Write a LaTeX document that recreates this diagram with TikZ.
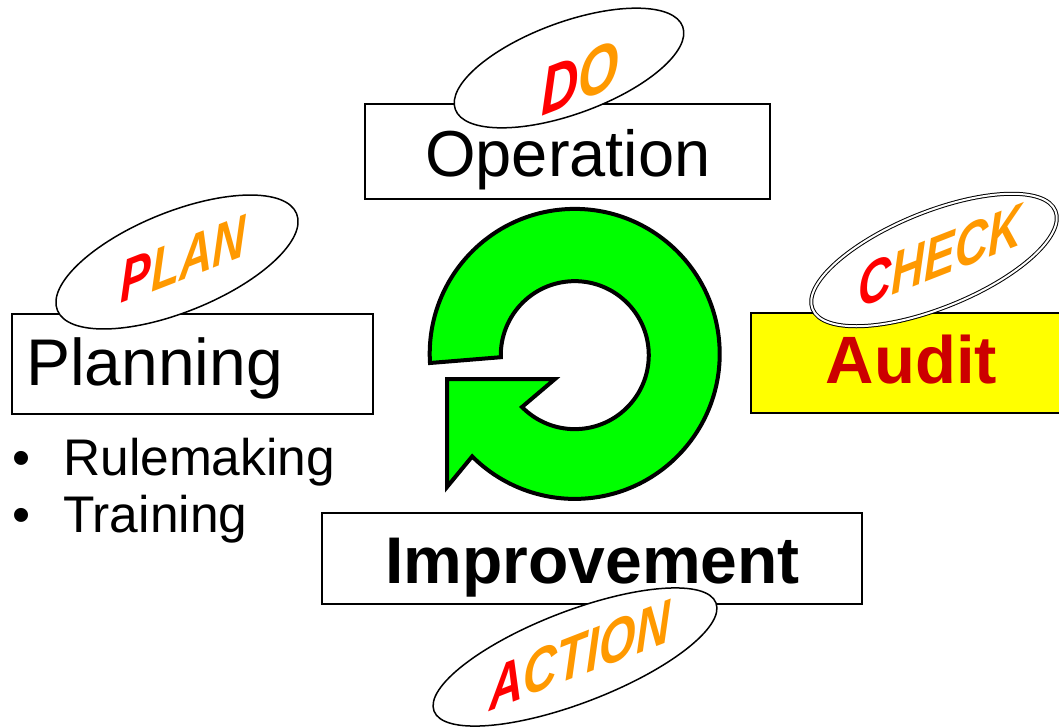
\documentclass[tikz,border=0pt]{standalone}
\usepackage{fontspec}
\setmainfont{Liberation Sans}
\usetikzlibrary{shapes.geometric}
\definecolor{wred}{HTML}{FF0000}
\definecolor{worange}{HTML}{FF9900}
\definecolor{auditred}{HTML}{CC0000}
\definecolor{auditbg}{HTML}{FFFF00}
\definecolor{ringgreen}{HTML}{00FF00}
\tikzset{
  box/.style={draw=black, line width=1.3pt, fill=white, inner sep=0pt},
  oval/.style={ellipse, draw=black, line width=1.5pt, fill=white, inner sep=0pt},
  word/.style={inner sep=0pt, transform shape, yscale=1.3, yslant=0.3},
  label/.style={inner sep=0pt, anchor=base},
  ring/.style={draw=black, line width=4pt, fill=ringgreen, line join=miter},
}
\begin{document}
\begin{tikzpicture}[x=1pt, y=-1pt]
\useasboundingbox (0,0) rectangle (1059,726);
% boxes
\node[box, minimum width=405pt, minimum height=95pt] (opbox) at (567.5,151.5) {};
\node[box, minimum width=361pt, minimum height=100pt] (planbox) at (192.5,364) {};
\node[box, fill=auditbg, minimum width=330pt, minimum height=100pt] (auditbox) at (916,363) {};
\node[box, minimum width=540pt, minimum height=91pt] (impbox) at (592,558.5) {};
% box texts
\node[label, font=\fontsize{65pt}{66pt}\selectfont] (optxt) at (568,176) {Operation};
\node[label, anchor=base west, font=\fontsize{66pt}{66pt}\selectfont] (plantxt) at (26,385) {Planning};
\node[label, font=\fontsize{67pt}{67pt}\selectfont\bfseries, text=auditred] (audittxt) at (911.5,383) {Audit};
\node[label, font=\fontsize{66pt}{66pt}\selectfont\bfseries] (imptxt) at (592.5,583) {Improvement};
% list
\node[label, anchor=base west, font=\fontsize{51.5pt}{52pt}\selectfont] (item1) at (12,475) {\makebox[51pt][l]{•}Rulemaking};
\node[label, anchor=base west, font=\fontsize{51.5pt}{52pt}\selectfont] (item2) at (12,532) {\makebox[51pt][l]{•}Training};
% green cycle arrow
\draw[ring] (430,363) arc[start angle=176.4, end angle=495, radius=145]
  -- (447,487) -- (447,379) -- (555,379) -- (522,407)
  arc[start angle=135.5, end angle=-181.6, radius=74] -- cycle;
% ovals
\node[oval, minimum width=242pt, minimum height=92pt, rotate=20] (dooval) at (569,68) {};
\node[oval, minimum width=258pt, minimum height=100pt, rotate=22] (planoval) at (177,262) {};
\node[oval, double=white, double distance=2pt, line width=1pt, minimum width=262pt, minimum height=96pt, rotate=22] (checkoval) at (934,260) {};
\node[oval, minimum width=302pt, minimum height=92pt, rotate=21] (actoval) at (575,657) {};
% word art
\node[word, font=\fontsize{52pt}{52pt}\selectfont\bfseries\itshape] (dotxt) at (580,78) {\textcolor{wred}{D}\textcolor{worange}{O}};
\node[word, font=\fontsize{46pt}{46pt}\selectfont\bfseries\itshape] (plantag) at (183,259) {\textcolor{wred}{P}\textcolor{worange}{LAN}};
\node[word, font=\fontsize{46pt}{46pt}\selectfont\bfseries\itshape] (checktag) at (940,256) {\textcolor{wred}{C}\textcolor{worange}{HECK}};
\node[word, font=\fontsize{47pt}{47pt}\selectfont\bfseries\itshape] (acttag) at (580,655) {\textcolor{wred}{A}\textcolor{worange}{CTION}};
\end{tikzpicture}
\end{document}
